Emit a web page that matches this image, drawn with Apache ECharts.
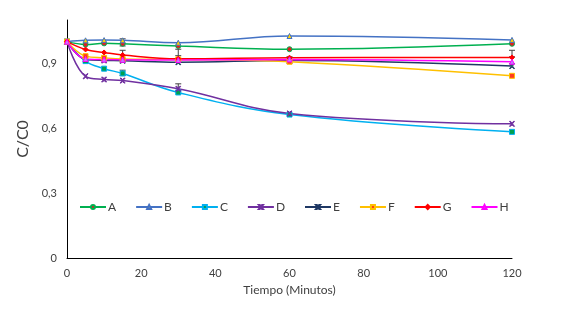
<!DOCTYPE html>
<html>
<head>
<meta charset="utf-8">
<script src="https://cdn.jsdelivr.net/npm/echarts@6/dist/echarts.min.js"></script>
<style>
  html, body { margin: 0; padding: 0; background: #fff; }
  #chart { width: 572px; height: 312px; }
</style>
</head>
<body>
<div id="chart"></div>
<script>
// tiempo en minutos
const tiempo = [0, 5, 10, 15, 30, 60, 120];
const serieA = [1.0, 0.987, 0.992, 0.99, 0.98, 0.965, 0.99];
const serieB = [1.0, 1.006, 1.007, 1.006, 0.995, 1.026, 1.008];
const serieC = [1.0, 0.91, 0.875, 0.853, 0.765, 0.663, 0.583];
const serieD = [1.0, 0.84, 0.825, 0.82, 0.782, 0.668, 0.62];
const serieE = [1.0, 0.918, 0.913, 0.912, 0.905, 0.913, 0.887];
const serieF = [1.0, 0.933, 0.925, 0.92, 0.918, 0.907, 0.842];
const serieG = [1.0, 0.964, 0.95, 0.938, 0.921, 0.926, 0.927];
const serieH = [1.0, 0.92, 0.917, 0.916, 0.915, 0.918, 0.907];

// barras de error
const errX = [15, 15, 15, 30, 30, 60, 120];
const errLow = [0.98, 0.905, 0.843, 0.935, 0.775, 0.9, 0.93];
const errHigh = [1.013, 0.96, 0.868, 0.965, 0.805, 0.93, 0.96];

const yTicks = [0, 0.3, 0.6, 0.9];

const chart = echarts.init(document.getElementById('chart'), null, { renderer: 'canvas' });

function pares(ys) {
  return tiempo.map((t, i) => [t, ys[i]]);
}

function serie(name, ys, color, symbol, fill) {
  return {
    name: name,
    type: 'line',
    smooth: 0.4,
    data: pares(ys),
    symbol: symbol,
    symbolSize: 5,
    showAllSymbol: true,
    lineStyle: { color: color, width: 1.5 },
    itemStyle: { color: fill, borderColor: color, borderWidth: 1 },
    emphasis: { disabled: true },
    z: 3
  };
}

const cruz = 'path://M0,0L2,0L5,3L8,0L10,0L6,5L10,10L8,10L5,7L2,10L0,10L4,5Z';
const errData = errX.map((x, i) => [x, errLow[i], errHigh[i]]);

chart.setOption({
  animation: false,
  backgroundColor: '#fff',
  textStyle: { fontFamily: 'Lato, "Liberation Sans", sans-serif' },
  grid: { left: 67, right: 60, top: 20, bottom: 54 },
  legend: {
    left: 74,
    top: 196,
    itemWidth: 26,
    itemHeight: 5,
    itemGap: 19,
    textStyle: { fontSize: 12, color: '#404040', padding: [0, 0, 0, -3] },
    data: ['A', 'B', 'C', 'D', 'E', 'F', 'G', 'H']
  },
  xAxis: {
    type: 'value',
    min: 0,
    max: 120,
    interval: 20,
    name: 'Tiempo (Minutos)',
    nameLocation: 'middle',
    nameGap: 26,
    nameTextStyle: { fontSize: 12, color: '#404040' },
    axisLine: { lineStyle: { color: '#000', width: 1 } },
    axisTick: { show: false },
    axisLabel: { color: '#404040', fontSize: 11, margin: 10 },
    splitLine: { show: false }
  },
  yAxis: {
    type: 'value',
    min: 0,
    max: 1.1,
    interval: 0.3,
    name: 'C/C0',
    nameLocation: 'middle',
    nameGap: 33,
    nameTextStyle: { fontSize: 16, color: '#404040' },
    axisLine: { show: true, lineStyle: { color: '#000', width: 1 } },
    axisTick: { show: false },
    axisLabel: {
      color: '#404040',
      fontSize: 11,
      margin: 10,
      showMaxLabel: false,
      formatter: v => yTicks.some(t => Math.abs(t - v) < 1e-6) ? String(+v.toFixed(1)).replace('.', ',') : ''
    },
    splitLine: { show: false }
  },
  series: [
    serie('A', serieA, '#00B050', 'circle', '#E02020'),
    serie('B', serieB, '#4472C4', 'triangle', '#FFD200'),
    serie('C', serieC, '#00B0F0', 'rect', '#00A050'),
    serie('D', serieD, '#7030A0', cruz, '#7030A0'),
    serie('E', serieE, '#1F3864', cruz, '#2E9E5E'),
    serie('F', serieF, '#FFC000', 'rect', '#FF3B1F'),
    serie('G', serieG, '#FF0000', 'diamond', '#FF0000'),
    serie('H', serieH, '#FF00FF', 'triangle', '#C080FF'),
    {
      name: 'error',
      type: 'custom',
      z: 2,
      data: errData,
      renderItem: function (params, api) {
        const x = api.value(0);
        const lo = api.coord([x, api.value(1)]);
        const hi = api.coord([x, api.value(2)]);
        const w = 3;
        const st = { stroke: '#404040', lineWidth: 1 };
        return {
          type: 'group',
          children: [
            { type: 'line', shape: { x1: lo[0], y1: lo[1], x2: hi[0], y2: hi[1] }, style: st },
            { type: 'line', shape: { x1: lo[0] - w, y1: lo[1], x2: lo[0] + w, y2: lo[1] }, style: st },
            { type: 'line', shape: { x1: hi[0] - w, y1: hi[1], x2: hi[0] + w, y2: hi[1] }, style: st }
          ]
        };
      }
    }
  ]
});
</script>
</body>
</html>
